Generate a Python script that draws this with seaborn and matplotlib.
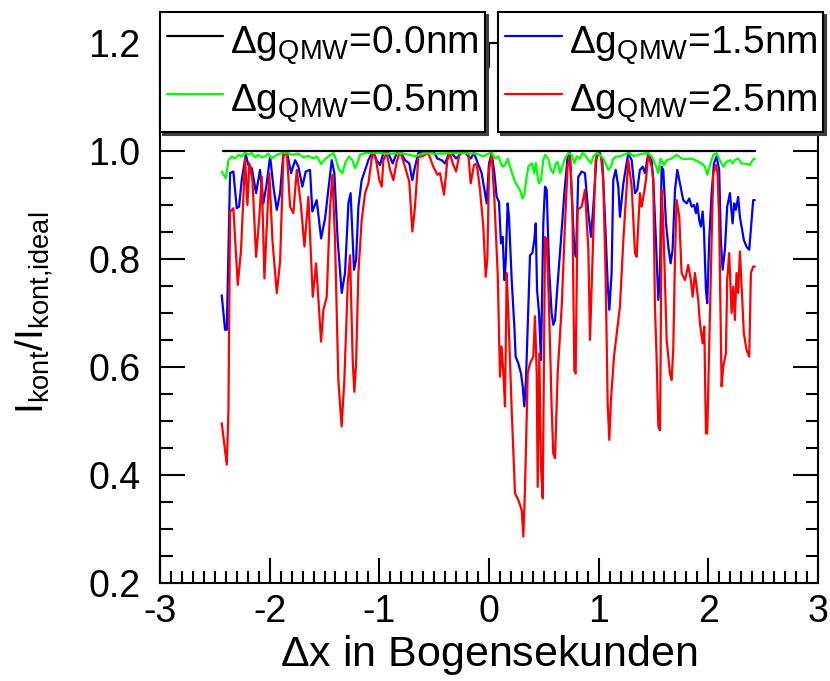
import numpy as np
import pandas as pd
import matplotlib
matplotlib.use("Agg")
import matplotlib.pyplot as plt
from matplotlib.ticker import MultipleLocator, FormatStrFormatter
import seaborn as sns

# ---------------- data ----------------
x_black = [-2.43, 2.43]
y_black = [1.0, 1.0]

x_green = [-2.437, -2.40, -2.376, -2.346, -2.315, -2.285, -2.255, -2.224, -2.194, -2.163, -2.133, -2.103,
           -2.072, -2.042, -2.012, -1.981, -1.935, -1.89, -1.844, -1.799, -1.738, -1.693, -1.647, -1.601,
           -1.571, -1.531, -1.495, -1.465, -1.419, -1.398, -1.367, -1.337, -1.307, -1.276, -1.246, -1.222,
           -1.20, -1.176, -1.13, -1.085, -1.0, -0.9, -0.811, -0.72, -0.675, -0.599, -0.477, -0.356, -0.234,
           -0.112, -0.052, -0.006, 0.024, 0.055, 0.085, 0.122, 0.146, 0.17, 0.201, 0.231, 0.261, 0.283,
           0.304, 0.322, 0.343, 0.359, 0.389, 0.413, 0.426, 0.444, 0.456, 0.474, 0.495, 0.511, 0.541, 0.565,
           0.586, 0.608, 0.626, 0.647, 0.669, 0.693, 0.723, 0.753, 0.778, 0.799, 0.83, 0.851, 0.875, 0.906,
           0.93, 0.951, 0.981, 1.012, 1.042, 1.063, 1.088, 1.112, 1.133, 1.164, 1.194, 1.225, 1.255, 1.285,
           1.316, 1.361, 1.407, 1.452, 1.483, 1.513, 1.544, 1.565, 1.595, 1.62, 1.665, 1.711, 1.756, 1.802,
           1.848, 1.893, 1.938, 1.969, 1.99, 2.015, 2.045, 2.075, 2.105, 2.136, 2.166, 2.197, 2.221, 2.242,
           2.272, 2.303, 2.348, 2.379, 2.403, 2.424]
y_green = [0.962, 0.949, 0.983, 0.99, 0.986, 0.993, 0.99, 0.997, 0.993, 0.996, 0.988, 0.993,
           0.988, 0.99, 0.995, 0.986, 0.993, 0.996, 0.997, 0.993, 0.995, 0.988, 0.991, 0.986,
           0.99, 0.976, 0.985, 0.99, 0.996, 0.986, 0.965, 0.959, 0.98, 0.99, 0.983, 0.968,
           0.977, 0.993, 0.996, 0.997, 0.996, 0.995, 0.996, 0.993, 0.99, 0.996, 0.995, 0.996, 0.996,
           0.995, 0.99, 0.995, 0.997, 0.986, 0.99, 0.971, 0.974, 0.986, 0.965, 0.946, 0.934, 0.928,
           0.912, 0.919, 0.952, 0.971, 0.977, 0.959, 0.978, 0.952, 0.94, 0.946, 0.983, 0.993, 0.986, 0.965,
           0.959, 0.977, 0.98, 0.959, 0.971, 0.986, 0.996, 0.993, 0.977, 0.99, 0.986, 0.996, 0.993, 0.983,
           0.977, 0.99, 0.996, 0.993, 0.986, 0.977, 0.965, 0.971, 0.986, 0.99, 0.99, 0.993, 0.995, 0.996,
           0.99, 0.993, 0.995, 0.996, 0.99, 0.977, 0.959, 0.986, 0.974, 0.983, 0.986, 0.993, 0.986, 0.985,
           0.986, 0.982, 0.977, 0.971, 0.956, 0.974, 0.993, 0.996, 0.983, 0.971, 0.98, 0.983, 0.977, 0.983,
           0.986, 0.977, 0.976, 0.974, 0.983, 0.986]

x_blue = [-2.437, -2.407, -2.391, -2.361, -2.331, -2.30, -2.279, -2.255, -2.218, -2.194, -2.163, -2.124,
          -2.088, -2.057, -2.027, -1.996, -1.966, -1.935, -1.905, -1.875, -1.844, -1.805, -1.768, -1.738,
          -1.702, -1.671, -1.632, -1.611, -1.571, -1.531, -1.495, -1.465, -1.434, -1.41, -1.38, -1.343,
          -1.313, -1.282, -1.262, -1.243, -1.231, -1.212, -1.191, -1.161, -1.13, -1.10, -1.06, -1.024,
          -0.994, -0.963, -0.918, -0.878, -0.842, -0.811, -0.766, -0.727, -0.699, -0.675, -0.644, -0.508,
          -0.471, -0.432, -0.401, -0.356, -0.30, -0.234, -0.167, -0.137, -0.112, -0.067, -0.036, -0.021,
          0.0, 0.024, 0.049, 0.07, 0.091, 0.109, 0.125, 0.14, 0.152, 0.17, 0.182, 0.207, 0.231, 0.243,
          0.267, 0.292, 0.307, 0.322, 0.337, 0.353, 0.374, 0.395, 0.413, 0.426, 0.438, 0.456, 0.474, 0.495,
          0.511, 0.526, 0.547, 0.571, 0.586, 0.602, 0.626, 0.656, 0.687, 0.717, 0.738, 0.76, 0.778, 0.793,
          0.814, 0.845, 0.875, 0.906, 0.93, 0.951, 0.981, 1.012, 1.033, 1.057, 1.082, 1.097, 1.118, 1.133,
          1.155, 1.179, 1.194, 1.225, 1.27, 1.301, 1.331, 1.352, 1.376, 1.401, 1.422, 1.452, 1.483, 1.498,
          1.522, 1.544, 1.559, 1.574, 1.589, 1.614, 1.635, 1.656, 1.674, 1.696, 1.717, 1.741, 1.771, 1.802,
          1.826, 1.848, 1.869, 1.887, 1.899, 1.917, 1.932, 1.948, 1.96, 1.978, 1.99, 2.008, 2.03, 2.051,
          2.075, 2.099, 2.114, 2.13, 2.151, 2.172, 2.197, 2.221, 2.236, 2.251, 2.272, 2.288, 2.303, 2.324,
          2.348, 2.373, 2.394, 2.409, 2.424]
y_blue = [0.733, 0.669, 0.669, 0.959, 0.962, 0.894, 0.897, 0.946, 0.993, 0.974, 0.968, 0.922,
          0.965, 0.903, 0.94, 0.99, 0.934, 0.891, 0.922, 0.996, 1.0, 0.959, 0.983, 0.971,
          0.934, 0.962, 0.965, 0.888, 0.909, 0.838, 0.875, 0.928, 0.983, 0.959, 0.835, 0.737,
          0.774, 0.903, 0.922, 0.835, 0.78, 0.798, 0.897, 0.946, 0.965, 0.983, 1.0, 0.983,
          0.974, 0.996, 0.996, 0.977, 0.996, 1.0, 0.983, 0.977, 0.946, 0.971, 0.996, 1.0,
          0.986, 0.983, 0.977, 1.0, 0.986, 1.0, 0.986, 0.996, 0.983, 0.959, 0.922, 0.903,
          0.977, 0.996, 0.959, 0.915, 0.906, 0.829, 0.841, 0.761, 0.792, 0.903, 0.878, 0.761, 0.675, 0.619,
          0.607, 0.588, 0.564, 0.527, 0.576, 0.675, 0.807, 0.811, 0.835, 0.866, 0.743, 0.70, 0.613, 0.866,
          0.934, 0.928, 0.786, 0.70, 0.678, 0.687, 0.755, 0.835, 0.922, 0.99, 0.996, 0.897, 0.817, 0.804,
          0.952, 0.962, 0.959, 0.885, 0.841, 0.897, 0.99, 0.996, 0.983, 0.878, 0.755, 0.706, 0.774, 0.946,
          0.965, 0.934, 0.878, 0.94, 0.996, 0.983, 0.922, 0.928, 0.965, 0.971, 0.959, 0.996, 0.983, 0.946,
          0.835, 0.724, 0.774, 0.971, 0.965, 0.866, 0.823, 0.792, 0.817, 0.928, 0.965, 0.94, 0.909, 0.903,
          0.912, 0.897, 0.90, 0.885, 0.903, 0.872, 0.86, 0.888, 0.854, 0.743, 0.718, 0.835, 0.922, 0.977,
          0.99, 0.965, 0.835, 0.78, 0.817, 0.897, 0.922, 0.866, 0.903, 0.891, 0.915, 0.878, 0.86, 0.835,
          0.823, 0.817, 0.872, 0.909, 0.909]

x_red = [-2.437, -2.391, -2.376, -2.361, -2.331, -2.291, -2.261, -2.224, -2.203, -2.185, -2.157, -2.124,
         -2.094, -2.072, -2.048, -2.018, -2.003, -1.975, -1.935, -1.905, -1.875, -1.844, -1.814, -1.784,
         -1.753, -1.714, -1.683, -1.647, -1.607, -1.577, -1.531, -1.51, -1.48, -1.449, -1.428, -1.404,
         -1.374, -1.344, -1.319, -1.288, -1.267, -1.243, -1.228, -1.212, -1.20, -1.191, -1.161, -1.13,
         -1.10, -1.06, -1.03, -1.0, -0.978, -0.963, -0.933, -0.902, -0.872, -0.842, -0.811, -0.766,
         -0.727, -0.699, -0.675, -0.644, -0.614, -0.584, -0.553, -0.508, -0.471, -0.447, -0.41, -0.38,
         -0.356, -0.331, -0.30, -0.264, -0.219, -0.188, -0.167, -0.137, -0.112, -0.082, -0.052, -0.03,
         -0.015, 0.0, 0.024, 0.049, 0.079, 0.10, 0.115, 0.131, 0.146, 0.161, 0.176, 0.207, 0.237, 0.267,
         0.298, 0.313, 0.328, 0.353, 0.374, 0.404, 0.419, 0.435, 0.444, 0.459, 0.474, 0.49, 0.511, 0.526,
         0.547, 0.571, 0.586, 0.602, 0.626, 0.663, 0.693, 0.717, 0.738, 0.76, 0.778, 0.79, 0.808, 0.845,
         0.875, 0.906, 0.921, 0.942, 0.972, 0.997, 1.021, 1.042, 1.063, 1.082, 1.097, 1.112, 1.14, 1.194,
         1.225, 1.27, 1.301, 1.331, 1.346, 1.376, 1.392, 1.413, 1.431, 1.452, 1.483, 1.498, 1.513, 1.528,
         1.544, 1.559, 1.565, 1.574, 1.589, 1.62, 1.65, 1.665, 1.68, 1.696, 1.711, 1.735, 1.756, 1.787,
         1.817, 1.841, 1.857, 1.878, 1.908, 1.923, 1.948, 1.963, 1.978, 1.99, 2.008, 2.03, 2.045, 2.069,
         2.084, 2.099, 2.121, 2.136, 2.16, 2.172, 2.19, 2.212, 2.227, 2.242, 2.257, 2.272, 2.288, 2.303,
         2.324, 2.348, 2.373, 2.388, 2.409, 2.424]
y_red = [0.496, 0.419, 0.52, 0.888, 0.894, 0.752, 0.817, 0.986, 0.90, 0.977, 0.946, 0.804,
         0.878, 0.952, 0.764, 0.897, 0.959, 0.835, 0.737, 0.795, 0.99, 1.0, 0.897, 0.885,
         0.965, 0.897, 0.823, 0.915, 0.73, 0.792, 0.647, 0.706, 0.73, 0.897, 0.956, 0.835,
         0.576, 0.49, 0.576, 0.755, 0.807, 0.613, 0.554, 0.607, 0.70, 0.774, 0.872, 0.922,
         0.94, 1.0, 0.983, 0.946, 0.934, 0.983, 0.996, 0.965, 0.946, 0.98, 1.0, 0.971,
         0.943, 0.851, 0.897, 0.99, 0.99, 0.993, 0.996, 0.971, 0.956, 0.959, 0.919, 0.983,
         0.996, 0.977, 0.962, 1.0, 1.0, 0.993, 0.94, 0.974, 0.977, 0.928, 0.86, 0.767,
         0.80, 0.965, 0.993, 0.91, 0.774, 0.582, 0.638, 0.588, 0.527, 0.774, 0.70, 0.52, 0.366, 0.354,
         0.335, 0.286, 0.372, 0.588, 0.607, 0.619, 0.694, 0.588, 0.378, 0.625, 0.415, 0.357, 0.841, 0.835,
         0.712, 0.527, 0.44, 0.431, 0.588, 0.712, 0.866, 0.971, 0.99, 0.897, 0.594, 0.588, 0.891, 0.897,
         0.928, 0.817, 0.65, 0.786, 0.983, 0.996, 0.99, 0.946, 0.774, 0.533, 0.465, 0.539, 0.62, 0.712,
         0.835, 0.983, 0.934, 0.811, 0.804, 0.922, 0.897, 0.922, 0.946, 0.993, 0.971, 0.946, 0.712, 0.619,
         0.49, 0.483, 0.619, 0.928, 0.866, 0.65, 0.588, 0.576, 0.632, 0.804, 0.909, 0.878, 0.774, 0.761,
         0.789, 0.761, 0.73, 0.774, 0.724, 0.681, 0.644, 0.675, 0.477, 0.477, 0.638, 0.835, 0.959, 0.974,
         0.959, 0.866, 0.564, 0.601, 0.625, 0.761, 0.811, 0.70, 0.749, 0.687, 0.774, 0.737, 0.814, 0.749,
         0.662, 0.632, 0.619, 0.774, 0.786, 0.786]

labels = ["0.0nm", "0.5nm", "1.5nm", "2.5nm"]
colors = ["#000000", "#00ff00", "#0000ff", "#ff0000"]
x_ticks = [-3, -2, -1, 0, 1, 2, 3]
y_ticks = [0.2, 0.4, 0.6, 0.8, 1.0, 1.2]

# ---------------- style ----------------
sns.set_theme(style="ticks")
plt.rcParams["font.family"] = ["Liberation Sans", "DejaVu Sans"]
plt.rcParams["mathtext.fontset"] = "custom"
plt.rcParams["mathtext.rm"] = "Liberation Sans"
plt.rcParams["mathtext.it"] = "Liberation Sans:italic"
plt.rcParams["mathtext.default"] = "regular"
plt.rcParams["axes.unicode_minus"] = False
plt.rcParams["text.color"] = "black"
plt.rcParams["axes.labelcolor"] = "black"

fig = plt.figure(figsize=(8.3, 6.81), dpi=100)
ax = fig.add_axes([160 / 830, 98 / 681, 658 / 830, 540 / 681])

series = [(x_black, y_black), (x_green, y_green), (x_blue, y_blue), (x_red, y_red)]
draw_order = [2, 3, 1, 0]  # blue, red, green, black on top
handles = {}
for i in draw_order:
    xs, ys = series[i]
    df = pd.DataFrame({"x": xs, "y": ys})
    sns.lineplot(data=df, x="x", y="y", ax=ax, color=colors[i], lw=1.6,
                 estimator=None, sort=False, legend=False, zorder=3 + (i == 0))
    handles[i] = ax.get_lines()[-1]

ax.set_xlim(-3, 3)
ax.set_ylim(0.2, 1.2)
ax.set_xticks(x_ticks)
ax.set_yticks(y_ticks)
ax.xaxis.set_minor_locator(MultipleLocator(0.1))
ax.yaxis.set_minor_locator(MultipleLocator(0.05))
ax.yaxis.set_major_formatter(FormatStrFormatter("%.1f"))
ax.tick_params(which="both", direction="in", top=True, right=True, width=1.5, colors="black")
ax.tick_params(which="major", length=18, labelsize=27)
ax.tick_params(which="minor", length=9)
ax.tick_params(axis="y", which="major", pad=14)
ax.tick_params(axis="x", which="major", pad=8)
for s in ax.spines.values():
    s.set_linewidth(1.5)
    s.set_color("black")

ax.set_xlabel(r"$\Delta$x in Bogensekunden", fontsize=31, labelpad=2, color="black")
ax.set_ylabel(r"$I_{kont}/I_{kont{,}ideal}$", fontsize=28, color="black")
ax.yaxis.set_label_coords(-0.16, 0.5)

def make_label(s):
    return r"$\Delta g_{QMW}$=" + s

leg_kw = dict(loc="upper left", mode="expand", borderaxespad=0, fontsize=28,
              frameon=True, fancybox=False, framealpha=1, edgecolor="black",
              shadow={"color": "0.25", "alpha": 1.0}, handlelength=1.45,
              handletextpad=0.18, borderpad=0.18, labelspacing=0.27, handleheight=1.3)
leg1 = ax.legend([handles[0], handles[1]], [make_label(labels[0]), make_label(labels[1])],
                 bbox_to_anchor=(0.0, 1.057, 0.494, 0), **leg_kw)
leg1.get_frame().set_linewidth(1.5)
ax.add_artist(leg1)
leg2 = ax.legend([handles[2], handles[3]], [make_label(labels[2]), make_label(labels[3])],
                 bbox_to_anchor=(0.514, 1.057, 0.494, 0), **leg_kw)
leg2.get_frame().set_linewidth(1.5)
for lg in (leg1, leg2):
    lg.set_zorder(10)
    for t in lg.get_texts():
        t.set_color("black")

fig.savefig("out.png", dpi=100)
